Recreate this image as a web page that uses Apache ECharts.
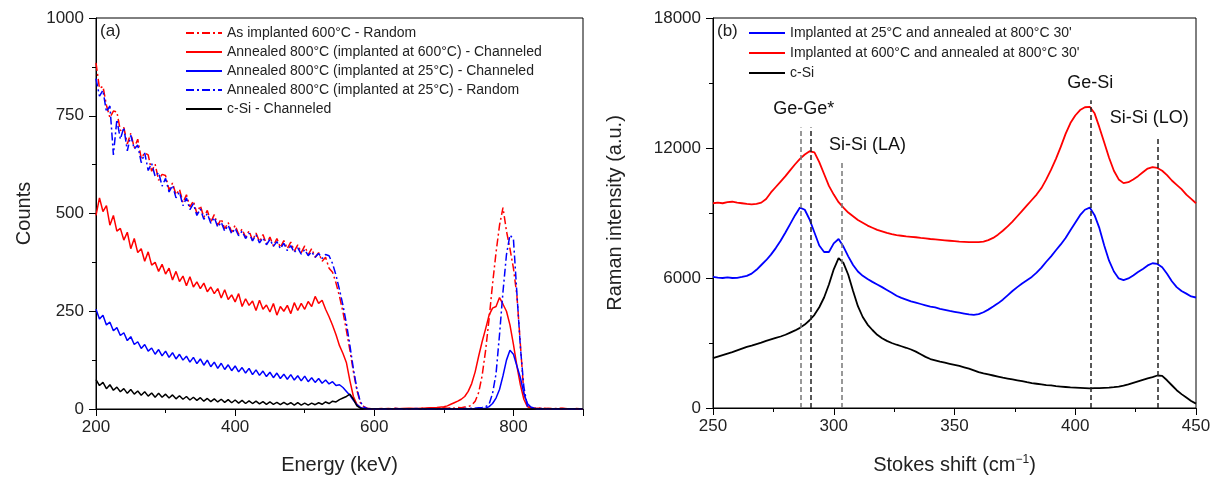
<!DOCTYPE html>
<html><head><meta charset="utf-8">
<script src="https://cdn.jsdelivr.net/npm/echarts@6/dist/echarts.min.js"></script>
<style>html,body{margin:0;padding:0;background:#fff}#c{width:1224px;height:481px}</style>
</head><body><div id="c"></div>
<script>
// ---------- Panel (a): RBS spectra ----------
const energyKeV = [
200,205,210,215,220,225,230,235,240,245,
250,255,260,265,270,275,280,285,290,295,
300,305,310,315,320,325,330,335,340,345,
350,355,360,365,370,375,380,385,390,395,
400,405,410,415,420,425,430,435,440,445,
450,455,460,465,470,475,480,485,490,495,
500,505,510,515,520,525,530,535,540,545,
550,555,560,565,570,575,580,585,590,595,
600,
610,620,630,640,650,660,670,680,690,700,
705,710,715,720,725,730,735,740,745,750,
755,760,765,770,775,780,785,790,795,800,
805,810,815,820,825,830,835,840,845,850,
860,870,880,890,900];

const asImpl600Random = [
885,820,825,777,745,762,760,712,720,678,
705,668,690,641,655,650,608,626,585,600,
597,560,578,548,562,528,548,517,532,500,
520,490,508,478,497,470,486,461,477,452,
470,447,460,439,456,431,450,428,446,422,
440,417,436,413,431,410,427,404,420,400,
417,395,410,388,400,378,388,360,350,322,
288,248,200,150,95,48,16,6,2,1,
0,
1,0,2,0,1,0,2,1,2,3,
2,3,2,4,3,5,6,10,20,42,
85,150,230,320,400,470,515,455,410,360,
290,165,40,10,4,2,3,1,2,1,
1,2,0,1,0];

const ann600Channeled = [
495,540,505,520,470,495,455,462,432,452,
410,436,400,410,378,402,368,375,352,370,
345,360,330,352,326,340,315,338,312,325,
308,322,300,312,295,308,284,305,280,292,
274,295,262,282,265,276,252,278,255,266,
248,270,240,262,250,265,244,272,252,270,
255,275,262,288,270,278,255,236,214,190,
162,142,118,72,32,12,3,1,0,0,
0,
0,1,0,1,2,1,2,3,4,6,
8,12,16,20,25,32,45,65,95,135,
172,205,240,258,262,285,268,250,215,165,
110,62,25,6,2,1,2,1,0,1,
0,1,0,0,0];

const ann25Channeled = [
255,230,240,215,222,200,208,188,195,175,
185,165,172,155,165,148,156,140,152,136,
148,132,144,128,140,125,135,120,132,116,
128,112,125,108,120,104,117,101,113,98,
110,95,106,92,104,88,100,86,97,83,
94,80,92,78,89,76,88,74,85,72,
84,70,80,68,78,66,74,64,70,60,
62,55,45,35,22,11,4,1,0,0,
0,
0,0,0,0,0,0,0,0,0,0,
0,0,0,0,0,0,0,0,1,1,
1,2,6,14,28,50,85,125,150,140,
110,80,40,14,5,2,0,0,0,0,
0,0,0,0,0];

const ann25Random = [
845,800,815,760,775,650,740,690,720,660,
700,665,675,630,655,610,628,595,605,570,
590,555,572,540,555,520,540,510,525,495,
512,485,500,475,490,465,478,455,470,448,
462,443,455,436,450,430,445,425,438,420,
434,416,428,410,424,405,418,400,412,396,
408,392,402,388,398,385,395,392,372,342,
305,265,218,162,102,52,18,5,1,0,
0,
0,0,1,0,0,1,0,0,1,0,
0,1,0,1,0,1,1,2,2,3,
4,6,12,40,90,190,300,395,445,435,
296,158,56,8,3,1,0,1,0,0,
0,0,0,0,0];

const cSiChanneled = [
75,60,68,52,62,48,56,44,52,40,
50,38,46,35,44,33,41,30,40,30,
38,28,36,26,34,25,32,23,30,22,
29,20,27,19,26,18,25,17,24,16,
23,15,22,14,21,14,20,13,19,12,
18,12,17,11,17,11,16,10,16,10,
15,10,15,11,16,12,18,14,20,18,
24,28,32,38,25,8,2,0,0,0,
0,
0,0,0,0,0,0,0,0,0,0,
0,0,0,0,0,0,0,0,0,0,
0,0,0,0,0,0,0,0,0,0,
0,0,0,0,0,0,0,0,0,0,
0,0,0,0,0];

const rbsNames = [
  'As implanted 600°C - Random',
  'Annealed 800°C (implanted at 600°C) - Channeled',
  'Annealed 800°C (implanted at 25°C) - Channeled',
  'Annealed 800°C (implanted at 25°C) - Random',
  'c-Si - Channeled'];

// ---------- Panel (b): Raman spectra ----------
const stokesShift = [
250,252,254,256,258,260,262,264,266,268,
270,272,274,276,278,280,282,284,286,288,
290,292,294,296,298,300,302,304,306,308,
310,312,314,316,318,320,322,324,326,328,
330,332,334,336,338,340,342,344,346,348,
350,352,354,356,358,360,362,364,366,368,
370,372,374,376,378,380,382,384,386,388,
390,392,394,396,398,400,402,404,406,408,
410,412,414,416,418,420,422,424,426,428,
430,432,434,436,438,440,442,444,446,448,
450];

const raman25 = [
6050,6020,6000,6030,6000,6010,6050,6100,6200,6380,
6600,6820,7080,7380,7720,8100,8500,8900,9250,9150,
8700,8100,7500,7200,7200,7600,7800,7450,7000,6600,
6300,6100,5950,5820,5700,5580,5450,5320,5180,5080,
5000,4920,4860,4800,4740,4680,4640,4580,4530,4480,
4440,4400,4360,4320,4300,4330,4420,4540,4680,4830,
5000,5200,5400,5580,5750,5900,6050,6250,6480,6750,
7000,7280,7550,7850,8200,8550,8900,9150,9250,8900,
8300,7500,6800,6300,5980,5900,5980,6120,6280,6420,
6580,6680,6650,6500,6200,5850,5580,5400,5280,5150,
5100];

const raman600 = [
9450,9480,9450,9500,9520,9480,9450,9420,9400,9420,
9480,9650,9950,10200,10450,10700,10980,11250,11500,11700,
11850,11800,11350,10800,10250,9850,9500,9250,9020,8850,
8680,8550,8420,8320,8220,8150,8080,8020,7980,7950,
7920,7900,7880,7850,7830,7800,7780,7760,7740,7720,
7700,7680,7670,7660,7660,7660,7680,7750,7850,8000,
8180,8380,8600,8850,9100,9350,9600,9850,10150,10550,
11000,11500,12050,12650,13150,13500,13750,13880,13900,13600,
12950,12250,11550,10950,10550,10380,10420,10550,10700,10880,
11050,11120,11080,10950,10750,10500,10300,10100,9850,9650,
9450];

const ramanCSi = [
2300,2370,2440,2510,2580,2660,2740,2820,2880,2950,
3020,3100,3170,3240,3300,3380,3480,3580,3700,3850,
4050,4300,4650,5100,5700,6400,6920,6700,6150,5400,
4700,4200,3850,3600,3380,3220,3100,3000,2920,2850,
2780,2700,2600,2480,2360,2260,2200,2140,2090,2040,
1990,1940,1880,1820,1740,1660,1600,1550,1500,1450,
1400,1360,1320,1280,1240,1190,1150,1120,1090,1060,
1040,1010,990,970,950,940,930,920,910,920,
920,930,940,960,990,1030,1090,1160,1230,1300,
1370,1430,1500,1480,1280,1050,820,640,480,320,
200];

const ramanNames = [
  "Implanted at 25°C and annealed at 800°C 30'",
  "Implanted at 600°C and annealed at 800°C 30'",
  'c-Si'];

// band marker lines (Raman shift, top of dashed line)
const bandPositions = [286.3, 290.5, 303.3, 406.3, 434.0];
const bandTops = [12950, 12950, 11450, 14200, 12500];
// band labels
const bandLabels = ['Ge-Ge*', 'Si-Si (LA)', 'Ge-Si', 'Si-Si (LO)'];
const bandLabelX = [287.6, 314.0, 406.2, 430.6];
const bandLabelY = [13800, 12140, 15000, 13380];

// styles
const bandColors = ['#777777', '#222222', '#777777', '#222222', '#222222'];
const FONT = '"Liberation Sans", Arial, sans-serif';
const RED = '#ff0000', BLUE = '#0000ff', BLACK = '#000000';
const DASHDOT = [8, 3, 2, 3];

const zip = (xs, ys) => xs.map((x, i) => [x, ys[i]]);
const plain = v => String(v);

function axisBase() {
  return {
    type: 'value',
    nameLocation: 'middle',
    axisLine: { show: true, onZero: false, lineStyle: { color: '#000', width: 1 } },
    axisTick: { show: true, inside: false, length: 7, lineStyle: { color: '#000', width: 1 } },
    minorTick: { show: true, splitNumber: 2, length: 4, lineStyle: { color: '#000', width: 1 } },
    splitLine: { show: false },
    minorSplitLine: { show: false },
    nameTextStyle: { color: '#222', fontSize: 20, fontFamily: FONT }
  };
}
function labelStyle(margin, extra) {
  return Object.assign({ color: '#222', fontSize: 17, fontFamily: FONT, margin: margin, formatter: plain }, extra || {});
}

const chart = echarts.init(document.getElementById('c'));

const rbsData = [asImpl600Random, ann600Channeled, ann25Channeled, ann25Random, cSiChanneled];
const rbsColors = [RED, RED, BLUE, BLUE, BLACK];
const rbsTypes = [DASHDOT, 'solid', 'solid', DASHDOT, 'solid'];

const ramanData = [raman25, raman600, ramanCSi];
const ramanColors = [BLUE, RED, BLACK];

const series = [];
rbsData.forEach((d, i) => {
  series.push({
    type: 'line', name: rbsNames[i], xAxisIndex: 0, yAxisIndex: 0,
    data: zip(energyKeV, d), symbol: 'none', clip: true,
    lineStyle: { color: rbsColors[i], width: 1.5, type: rbsTypes[i] },
    itemStyle: { color: rbsColors[i] }
  });
});
ramanData.forEach((d, i) => {
  series.push({
    type: 'line', name: ramanNames[i], xAxisIndex: 1, yAxisIndex: 1,
    data: zip(stokesShift, d), symbol: 'none', clip: true,
    lineStyle: { color: ramanColors[i], width: 1.8 },
    itemStyle: { color: ramanColors[i] }
  });
});
series.push({
  type: 'scatter', xAxisIndex: 1, yAxisIndex: 1, symbolSize: 0, silent: true,
  itemStyle: { color: '#111', opacity: 1 },
  data: bandLabels.map((n, i) => ({ name: n, value: [bandLabelX[i], bandLabelY[i]] })),
  label: { show: true, position: 'inside', formatter: '{b}', color: '#111', opacity: 1, fontSize: 18, fontFamily: FONT,
           textBorderWidth: 0, textShadowBlur: 0 },
  markLine: {
    silent: true, symbol: ['none', 'none'], label: { show: false },
    data: bandPositions.map((x, i) => [
      { coord: [x, 0], lineStyle: { color: bandColors[i], type: [5, 3], width: 1.5 } },
      { coord: [x, bandTops[i]] }
    ])
  }
});

const legendBase = {
  orient: 'vertical', itemWidth: 36, itemHeight: 14, itemGap: 5,
  itemStyle: { opacity: 0 },
  textStyle: { color: '#222', fontSize: 14, fontFamily: FONT }, padding: 0
};

chart.setOption({
  animation: false,
  backgroundColor: '#fff',
  textStyle: { fontFamily: FONT },
  title: [
    { text: '(a)', left: 100, top: 23, padding: 0, textStyle: { fontSize: 17, fontWeight: 'normal', color: '#222', fontFamily: FONT } },
    { text: '(b)', left: 717, top: 23, padding: 0, textStyle: { fontSize: 17, fontWeight: 'normal', color: '#222', fontFamily: FONT } }
  ],
  legend: [
    Object.assign({}, legendBase, { data: rbsNames, left: 185, top: 26 }),
    Object.assign({}, legendBase, { data: ramanNames, left: 748, top: 26, itemGap: 6 })
  ],
  grid: [
    { left: 96, right: 641, top: 18, bottom: 72, show: true, borderColor: '#000', borderWidth: 1, backgroundColor: 'transparent' },
    { left: 713, right: 28, top: 18, bottom: 73, show: true, borderColor: '#000', borderWidth: 1, backgroundColor: 'transparent' }
  ],
  xAxis: [
    Object.assign(axisBase(), { gridIndex: 0, min: 200, max: 900, interval: 200, name: 'Energy (keV)', nameGap: 46,
      axisLabel: labelStyle(10, { showMaxLabel: false }) }),
    Object.assign(axisBase(), { gridIndex: 1, min: 250, max: 450, interval: 50, nameGap: 46,
      name: '{n|Stokes shift (cm}{s|−1}{n|)}',
      axisLabel: labelStyle(10),
      nameTextStyle: { color: '#222', fontSize: 20, fontFamily: FONT,
        rich: { n: { fontSize: 20, fontFamily: FONT, color: '#222' },
                s: { fontSize: 12, fontFamily: FONT, color: '#222', padding: [0, 0, 10, 0] } } } })
  ],
  yAxis: [
    Object.assign(axisBase(), { gridIndex: 0, min: 0, max: 1000, interval: 250, name: 'Counts', nameGap: 62,
      axisLabel: labelStyle(12) }),
    Object.assign(axisBase(), { gridIndex: 1, min: 0, max: 18000, interval: 6000, name: 'Raman intensity (a.u.)', nameGap: 88,
      axisLabel: labelStyle(12) })
  ],
  series: series
});
</script>
</body></html>
